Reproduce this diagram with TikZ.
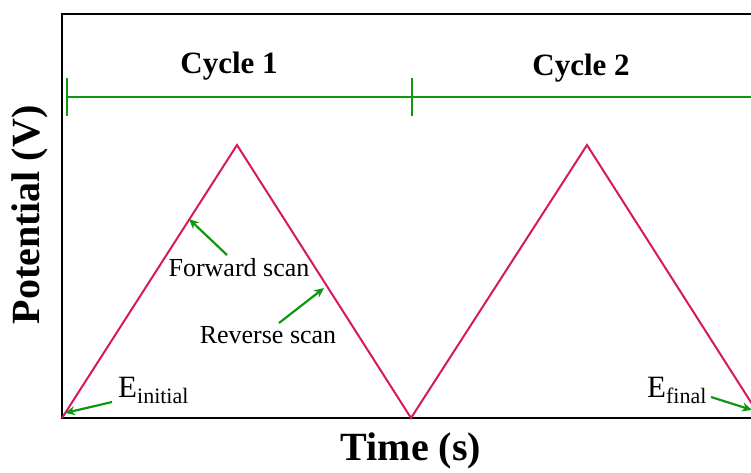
\documentclass[tikz,border=0pt]{standalone}
\usepackage{fontspec}
\setmainfont{Liberation Serif}
\usetikzlibrary{positioning,arrows.meta}
\definecolor{wavered}{RGB}{214,24,96}
\definecolor{markgreen}{RGB}{16,150,16}

\begin{document}
\begin{tikzpicture}[x=1pt,y=-1pt,
		axis/.style={line width=2pt},
		wave/.style={draw=wavered,line width=2pt},
		span/.style={draw=markgreen,line width=2.4pt},
		pointer/.style={draw=markgreen,fill=markgreen,line width=2.2pt,-{Stealth[length=10pt,width=9pt]}},
		title/.style={font=\bfseries\fontsize{31}{31}\selectfont},
		axislabel/.style={font=\bfseries\fontsize{40}{40}\selectfont},
		note/.style={font=\fontsize{26}{26}\selectfont,inner sep=0pt},
		elabel/.style={font=\fontsize{31}{31}\selectfont,inner sep=0pt,anchor=base west},
	]
	\useasboundingbox (0,0) rectangle (751,473);
	% frame
	\draw[axis] (751,14) -- (62,14) -- (62,418) -- (751,418);
	\node[axislabel,rotate=90] (ylab) at (30,215) {Potential (V)};
	\node[axislabel] (xlab) at (411,451) {Time (s)};
	% triangle wave
	\coordinate (w0) at (62,418);
	\coordinate (p1) at (237,145);
	\coordinate (w1) at (411,418);
	\coordinate (p2) at (587,145);
	\coordinate (w2) at (761,418);
	\begin{scope}
		\clip (0,0) rectangle (751,473);
		\draw[wave,line join=miter] (w0) -- (p1) -- (w1) -- (p2) -- (w2);
		% cycles
		\coordinate (c0) at (67,97);
		\coordinate (c1) at (412,97);
		\coordinate (c2) at (760,97);
		\draw[span] (c0) -- (c2);
		\draw[span] ([yshift=-19pt]c0) -- ([yshift=19pt]c0);
		\draw[span] ([yshift=-19pt]c1) -- ([yshift=19pt]c1);
	\end{scope}
	\node[title] (cyc1) at (229,66) {Cycle 1};
	\node[title] (cyc2) at (581,68) {Cycle 2};
	% scan labels
	\node[note] (fwd) at (239,268) {Forward scan};
	\node[note] (rev) at (268,335) {Reverse scan};
	\coordinate (fwdtip) at (189,219);
	\coordinate (revtip) at (324,288);
	\draw[pointer] (227,255) -- (fwdtip);
	\draw[pointer] (279,323) -- (revtip);
	% start and end potentials
	\node[elabel] (ei) at (118,397) {E\raisebox{-6pt}{\fontsize{22}{22}\selectfont initial}};
	\node[elabel] (ef) at (647,397) {E\raisebox{-6pt}{\fontsize{22}{22}\selectfont final}};
	\coordinate (eitip) at (65,413);
	\coordinate (eftip) at (752,410);
	\draw[pointer] (112,402) -- (eitip);
	\draw[pointer] (711,397) -- (eftip);
\end{tikzpicture}
\end{document}
